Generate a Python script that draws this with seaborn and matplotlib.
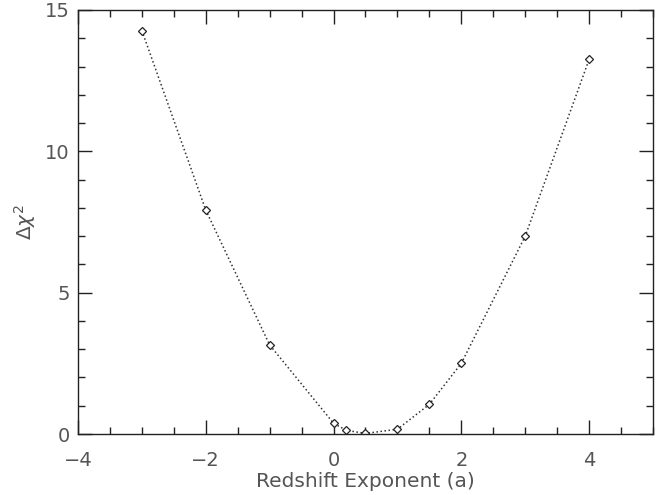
import matplotlib
matplotlib.use('Agg')
import matplotlib.pyplot as plt
import numpy as np
import pandas as pd
import seaborn as sns
from matplotlib.ticker import MultipleLocator

# redshift exponent vs delta chi^2
exponent = [-3, -2, -1, 0, 0.2, 0.5, 1, 1.5, 2, 3, 4]
delta_chi2 = [14.27, 7.92, 3.15, 0.38, 0.13, 0.02, 0.17, 1.05, 2.5, 7.0, 13.25]

df = pd.DataFrame({'a': exponent, 'dchi2': delta_chi2})

sns.set_style('ticks')
plt.rcParams['font.family'] = ['DejaVu Sans']
plt.rcParams['mathtext.fontset'] = 'dejavusans'

fig = plt.figure(figsize=(6.68, 4.95), dpi=100)
ax = fig.add_axes([0.1168, 0.1232, 0.8607, 0.8566])

sns.lineplot(data=df, x='a', y='dchi2', ax=ax, color='#333333', linestyle=':', linewidth=1.1,
             marker='D', markersize=4.5, markerfacecolor='white', markeredgecolor='#222222',
             markeredgewidth=0.9)

ax.set_xlim(-4, 5)
ax.set_ylim(0, 15)
ax.xaxis.set_major_locator(MultipleLocator(2))
ax.xaxis.set_minor_locator(MultipleLocator(0.5))
ax.yaxis.set_major_locator(MultipleLocator(5))
ax.yaxis.set_minor_locator(MultipleLocator(1))
ax.tick_params(which='both', direction='in', top=True, right=True, color='#222222',
               labelsize=14, labelcolor='#555555')
ax.tick_params(axis='x', which='major', pad=12)
ax.tick_params(axis='y', which='major', pad=6)
ax.tick_params(which='major', length=10, width=1)
ax.tick_params(which='minor', length=5, width=1)
for s in ax.spines.values():
    s.set_color('#222222')
    s.set_linewidth(1)

ax.set_xlabel('Redshift Exponent (a)', fontsize=14.5, color='#555555', labelpad=2)
ax.set_ylabel(r'$\Delta\chi^2$', fontsize=14.5, color='#555555', labelpad=5)

fig.savefig('out.png', dpi=100)
